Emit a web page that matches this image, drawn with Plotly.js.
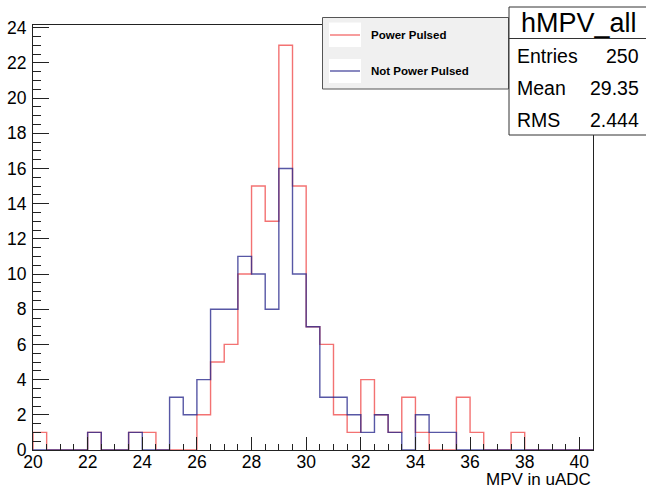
<!DOCTYPE html>
<html>
<head>
<meta charset="utf-8">
<script src="https://cdn.plot.ly/plotly-3.0.1.min.js"></script>
<style>
  html, body { margin: 0; padding: 0; background: #ffffff; }
  #chart { width: 646px; height: 488px; }
</style>
</head>
<body>
<div id="chart"></div>
<script>
// Histogram binning (bin lower edges from 20 to 40 in steps of 0.5)
const binLow = 20;
const binWidth = 0.5;
// Counts per bin
const powerPulsed = [1,0,0,0,1,0,0,1,1,0, 0,0,2,5,6,10,15,13,23,15, 7,6,2,1,4,2,1,3,1,0, 0,3,1,0,0,1,0,0,0,0, 0];
const notPowerPulsed = [0,0,0,0,1,0,0,1,0,0, 3,2,4,8,8,11,10,8,16,10, 7,3,3,2,1,2,1,0,2,1, 1,0,0,0,0,0,0,0,0,0, 0];
const seriesNames = ["Power Pulsed", "Not Power Pulsed"];
const xTickVals = [20,22,24,26,28,30,32,34,36,38,40];
const yTickVals = [0,2,4,6,8,10,12,14,16,18,20,22,24];
const statsTitle = "hMPV_all";
const statsLabels = ["Entries", "Mean", "RMS"];
const statsValues = ["250", "29.35", "2.444"];
const xTitle = "MPV in uADC";

function stepTrace(counts, name, color) {
  const x = [binLow], y = [0];
  for (let i = 0; i < counts.length; i++) {
    x.push(binLow + i * binWidth);
    y.push(counts[i]);
  }
  const hi = binLow + counts.length * binWidth;
  x.push(hi); y.push(counts[counts.length - 1]);
  x.push(hi); y.push(0);
  return {
    type: 'scatter', mode: 'lines', x: x, y: y, name: name,
    line: { shape: 'hv', color: color, width: 1.4 },
    hoverinfo: 'skip', showlegend: false
  };
}

const redColor = 'rgba(238,60,60,0.72)';
const blueColor = 'rgba(40,40,140,0.78)';

const traces = [
  stepTrace(powerPulsed, seriesNames[0], redColor),
  stepTrace(notPowerPulsed, seriesNames[1], blueColor)
];

const W = 646, H = 488;
const mL = 33, mR = 53, mT = 25, mB = 38;
const pw = W - mL - mR, ph = H - mT - mB;
// pixel -> paper helpers
const px = v => (v - mL) / pw;
const py = v => (H - mB - v) / ph;

const font = "'Liberation Sans', Arial, Helvetica, sans-serif";

const shapes = [
  // legend box
  { type: 'rect', xref: 'paper', yref: 'paper', layer: 'above',
    x0: px(322.5), x1: px(508.5), y0: py(89), y1: py(17.5),
    fillcolor: '#f0f0f0', line: { color: '#555555', width: 1 } },
  { type: 'rect', xref: 'paper', yref: 'paper', layer: 'above',
    x0: px(329), x1: px(361), y0: py(47), y1: py(22.5),
    fillcolor: '#ffffff', line: { width: 0 } },
  { type: 'rect', xref: 'paper', yref: 'paper', layer: 'above',
    x0: px(329), x1: px(361), y0: py(83), y1: py(59),
    fillcolor: '#ffffff', line: { width: 0 } },
  { type: 'line', xref: 'paper', yref: 'paper', layer: 'above',
    x0: px(330), x1: px(360), y0: py(35), y1: py(35),
    line: { color: redColor, width: 1.4 } },
  { type: 'line', xref: 'paper', yref: 'paper', layer: 'above',
    x0: px(330), x1: px(360), y0: py(71), y1: py(71),
    line: { color: blueColor, width: 1.4 } },
  // stats box
  { type: 'rect', xref: 'paper', yref: 'paper', layer: 'above',
    x0: px(509), x1: px(660), y0: py(135), y1: py(7),
    fillcolor: '#ffffff', line: { color: '#333333', width: 1 } },
  { type: 'line', xref: 'paper', yref: 'paper', layer: 'above',
    x0: px(509), x1: px(660), y0: py(38.5), y1: py(38.5),
    line: { color: '#333333', width: 1 } }
];

const annotations = [
  { xref: 'paper', yref: 'paper', x: px(369), y: py(35.5), xanchor: 'left', yanchor: 'middle',
    text: '<b>' + seriesNames[0] + '</b>', showarrow: false,
    font: { family: font, size: 11.5, color: '#000' } },
  { xref: 'paper', yref: 'paper', x: px(369), y: py(71.5), xanchor: 'left', yanchor: 'middle',
    text: '<b>' + seriesNames[1] + '</b>', showarrow: false,
    font: { family: font, size: 11.5, color: '#000' } },
  { xref: 'paper', yref: 'paper', x: px(578.5), y: py(22.5), xanchor: 'center', yanchor: 'middle',
    text: statsTitle, showarrow: false,
    font: { family: font, size: 27, color: '#000' } },
  { xref: 'paper', yref: 'paper', x: px(592), y: py(479.5), xanchor: 'right', yanchor: 'middle',
    height: 14, valign: 'middle', borderpad: 0,
    text: xTitle, showarrow: false,
    font: { family: font, size: 17, color: '#000' } }
];
const rowY = [56, 88, 120];
for (let i = 0; i < statsLabels.length; i++) {
  annotations.push({ xref: 'paper', yref: 'paper', x: px(515), y: py(rowY[i]), xanchor: 'left', yanchor: 'middle',
    text: statsLabels[i], showarrow: false, font: { family: font, size: 19.5, color: '#000' } });
  annotations.push({ xref: 'paper', yref: 'paper', x: px(641), y: py(rowY[i]), xanchor: 'right', yanchor: 'middle',
    text: statsValues[i], showarrow: false, font: { family: font, size: 19.5, color: '#000' } });
}

const layout = {
  width: W, height: H,
  margin: { l: mL, r: mR, t: mT, b: mB, pad: 0 },
  paper_bgcolor: '#ffffff', plot_bgcolor: '#ffffff',
  showlegend: false,
  font: { family: font, size: 15, color: '#000' },
  xaxis: {
    range: [20, 40.5], tickmode: 'array', tickvals: xTickVals,
    ticktext: xTickVals.map(String),
    ticks: 'inside', ticklen: 13, tickwidth: 1, tickcolor: '#222',
    minor: { dtick: 0.5, tick0: 20, ticks: 'inside', ticklen: 6, tickwidth: 1, tickcolor: '#222', showgrid: false },
    showgrid: false, zeroline: false,
    showline: true, linecolor: '#222', linewidth: 1, mirror: true,
    tickfont: { family: font, size: 17.5, color: '#000' },
    ticklabelstandoff: -4,
    fixedrange: true
  },
  yaxis: {
    range: [0, 24.15], tickmode: 'array', tickvals: yTickVals,
    ticktext: yTickVals.map(String),
    ticks: 'inside', ticklen: 16, tickwidth: 1, tickcolor: '#222',
    minor: { dtick: 0.5, tick0: 0, ticks: 'inside', ticklen: 8, tickwidth: 1, tickcolor: '#222', showgrid: false },
    showgrid: false, zeroline: false,
    showline: true, linecolor: '#222', linewidth: 1, mirror: true,
    tickfont: { family: font, size: 17.5, color: '#000' },
    ticklabelstandoff: 2,
    fixedrange: true
  },
  shapes: shapes,
  annotations: annotations
};

Plotly.newPlot('chart', traces, layout, { displayModeBar: false, staticPlot: true });
</script>
</body>
</html>
